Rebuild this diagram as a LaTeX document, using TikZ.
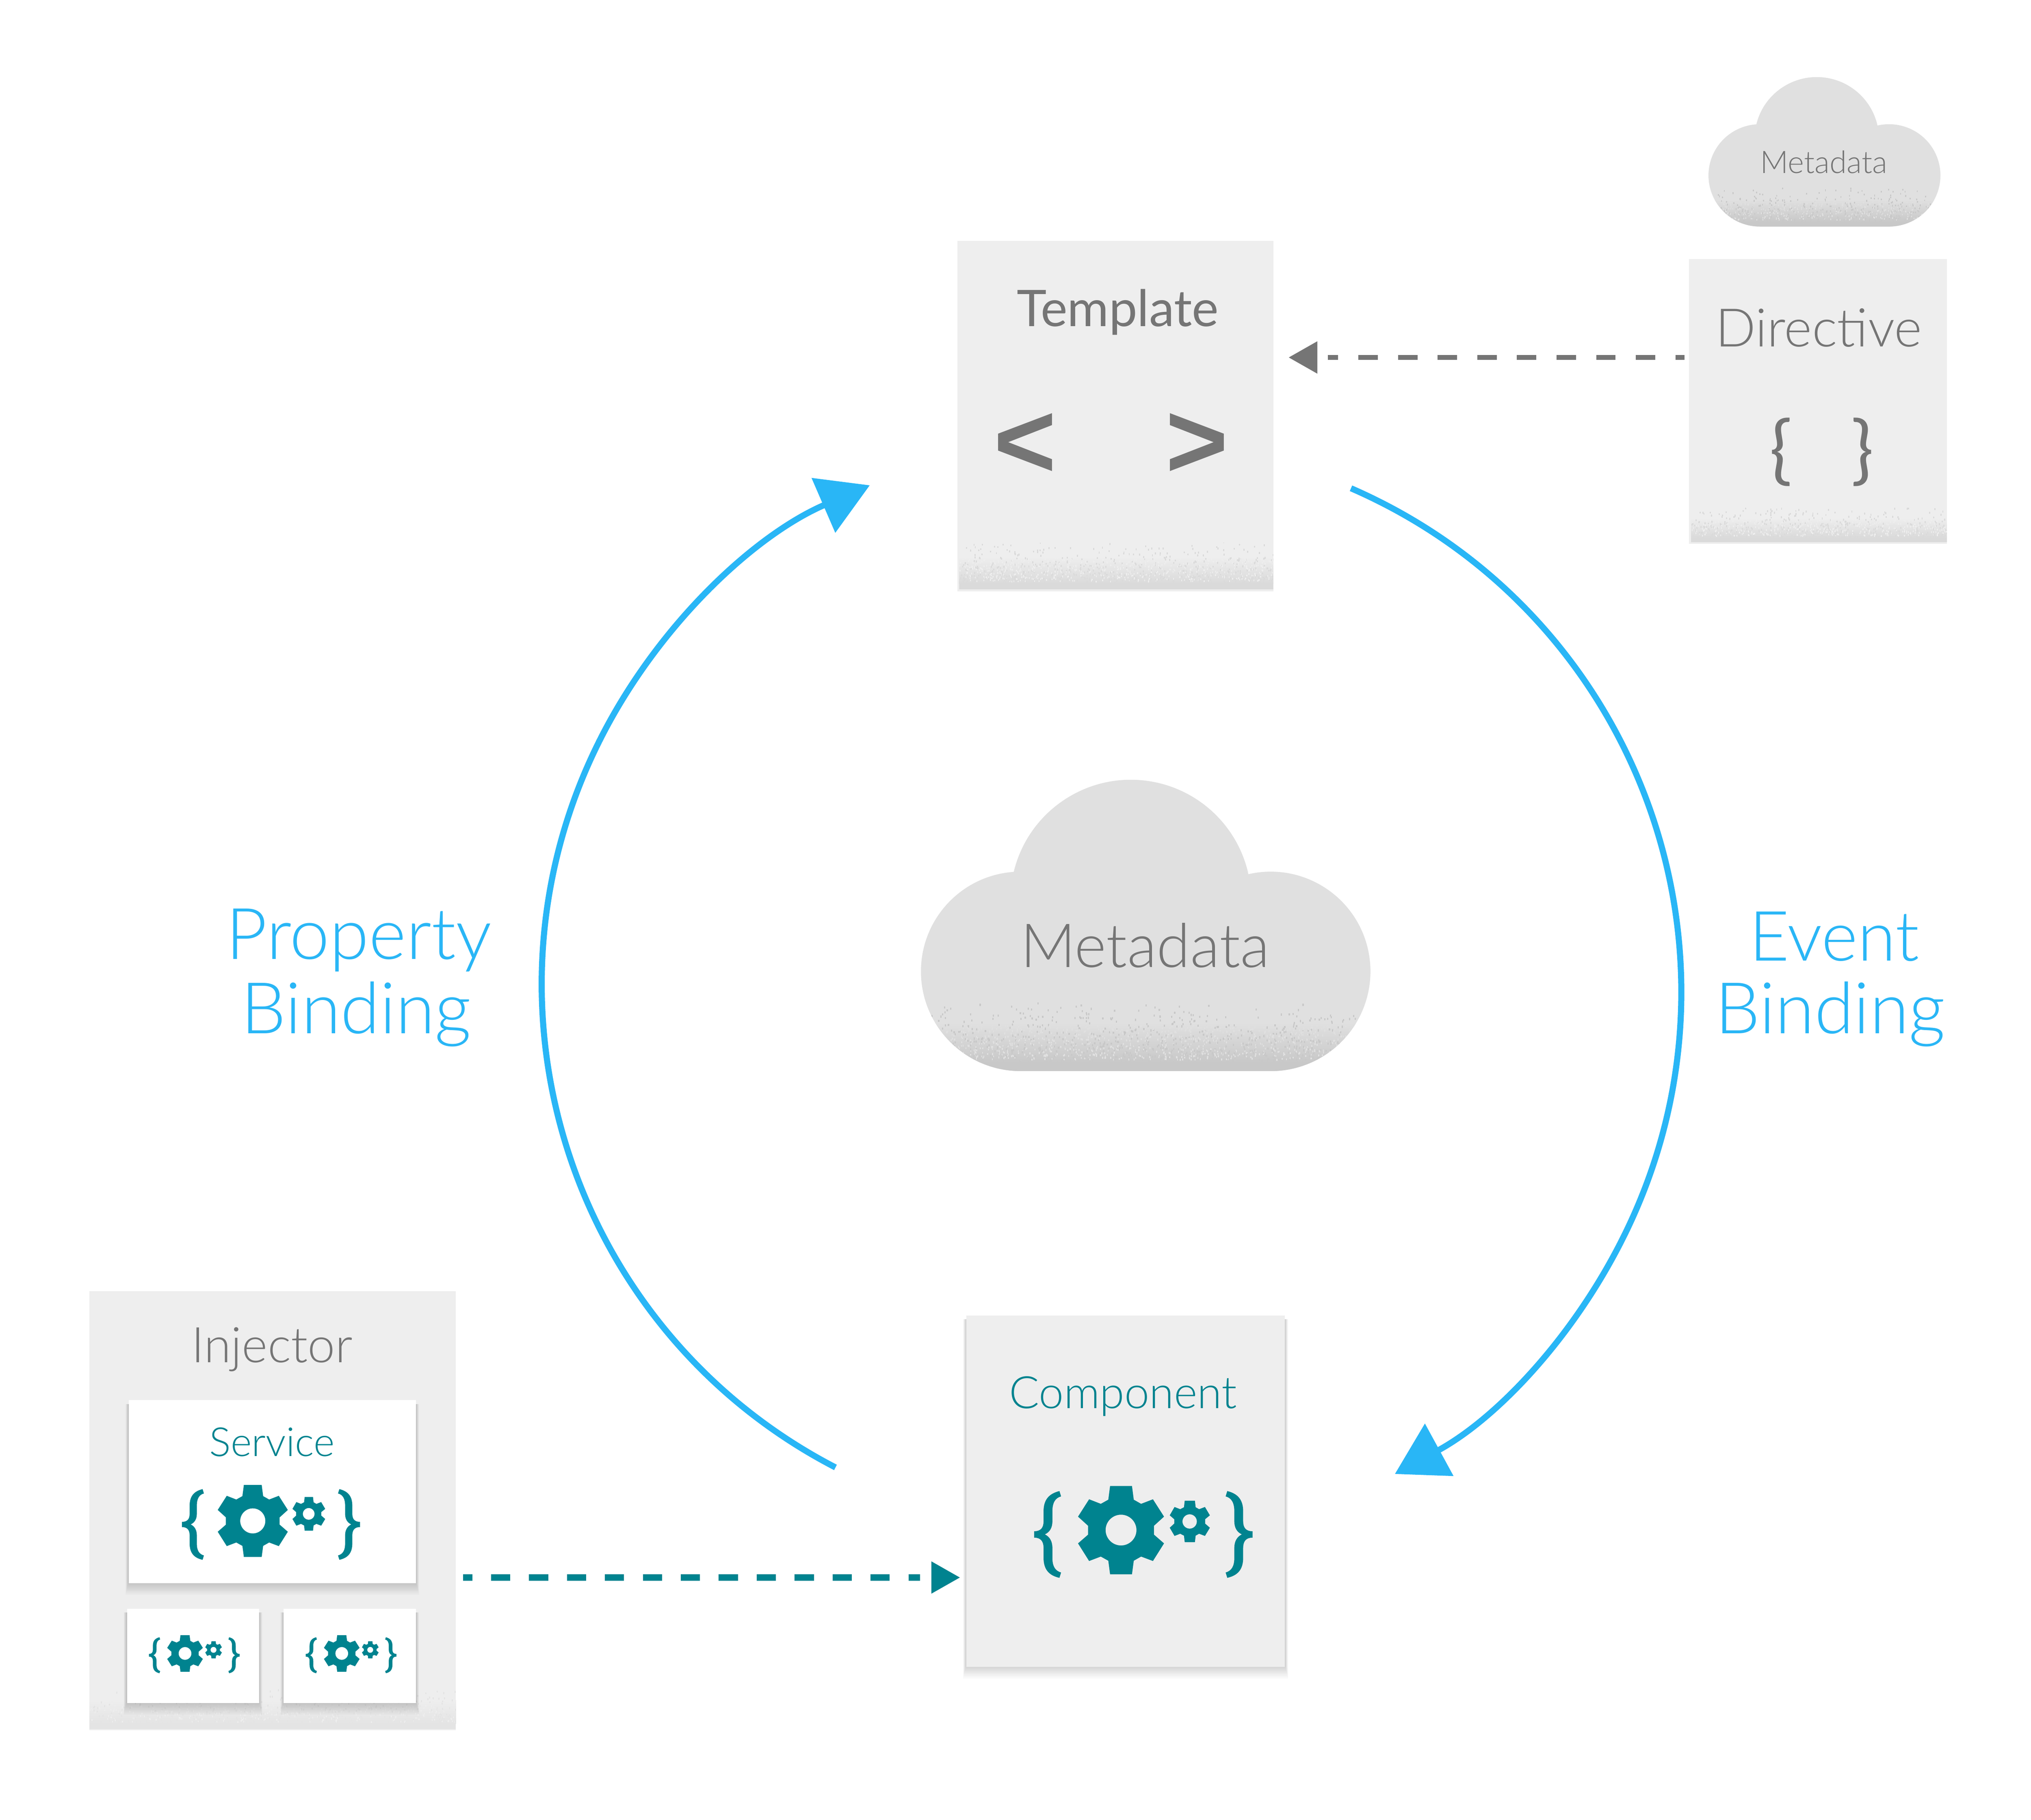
\documentclass[tikz,border=0pt]{standalone}
\usepackage{fontspec}
\setmainfont{Lato Light}
\newfontfamily\medfont{Lato}
\newfontfamily\symfont{Liberation Sans}
\usetikzlibrary{arrows.meta}
\definecolor{boxgrey}{HTML}{EEEEEE}
\definecolor{cloudgrey}{HTML}{E0E0E0}
\definecolor{clouddark}{HTML}{C8C8C8}
\definecolor{grainbox}{HTML}{DADADA}
\definecolor{graininj}{HTML}{E4E4E4}
\definecolor{inktext}{HTML}{757575}
\definecolor{tealc}{HTML}{00838F}
\definecolor{bluec}{HTML}{29B6F6}
\tikzset{
  x=1pt,y=1pt,
  panel/.style={fill=boxgrey,draw=none,inner sep=0pt,outer sep=0pt},
  card/.style={fill=white,draw=none,inner sep=0pt,outer sep=0pt},
  label/.style={inner sep=0pt,outer sep=0pt,anchor=center,text=inktext},
  teallabel/.style={label,text=tealc},
  bluelabel/.style={label,text=bluec,font=\fontsize{55}{55}\selectfont},
  bigarc/.style={draw=bluec,line width=4.7pt,-{Triangle[length=39pt,width=45pt]}},
  greydash/.style={draw=inktext,line width=3.8pt,dash pattern=on 15pt off 15.6pt,dash phase=8pt},
  tealdash/.style={draw=tealc,line width=5.2pt,dash pattern=on 14.8pt off 14.5pt,dash phase=7.8pt},
}
% x0,x1,ytop,ybot (y negative), dark colour, base colour, specks, speck size
\newcommand\grainband[8]{%
  \shade[top color=#6,bottom color=#5] (#1,{#3+(#4-#3)*0.3}) rectangle (#2,{#4+(#3-#4)*0.12});
  \fill[#5] (#1,{#4+(#3-#4)*0.12}) rectangle (#2,#4);
  \foreach \gi in {1,...,#7}{%
    \pgfmathsetmacro\gx{#1+rnd*(#2-#1)}%
    \pgfmathsetmacro\gt{pow(rnd,0.55)}%
    \pgfmathsetmacro\gy{#3+(#4-#3)*\gt}%
    \fill[#5] (\gx,\gy) rectangle ++(#8,{1.6*#8});
    \pgfmathsetmacro\gx{#1+rnd*(#2-#1)}%
    \pgfmathsetmacro\gy{#3+(#4-#3)*(0.35+0.5*rnd)}%
    \fill[#6] (\gx,\gy) rectangle ++({0.8*#8},{1.4*#8});
  }%
}
\newcommand\softshadow[4]{%
  \foreach \sk in {0,...,11}{%
    \fill[black,opacity=0.016] ({#1-2.5+\sk*0.2},{#4-9+\sk*0.9}) rectangle ({#3+2.5-\sk*0.2},{#2-3});
  }%
}
\newcommand\cloudshape{%
  (788,-827) arc[start angle=270,end angle=94,radius=77]
  arc[start angle=166.4,end angle=13.6,radius=93]
  -- (963.7,-675) arc[start angle=103,end angle=-90,radius=77] -- cycle}
\newcommand\bracepath{%
  \fill[tealc] (224,144) .. controls (150,165) and (118,215) .. (118,300) -- (118,375)
   .. controls (118,425) and (100,452) .. (55,452) -- (55,501)
   .. controls (100,501) and (118,530) .. (118,580) -- (118,655)
   .. controls (118,740) and (150,790) .. (224,809) -- (235,768)
   .. controls (195,755) and (177,720) .. (177,655) -- (177,580)
   .. controls (177,530) and (160,495) .. (127,476)
   .. controls (160,458) and (177,425) .. (177,375) -- (177,300)
   .. controls (177,235) and (195,197) .. (235,185) -- cycle;}
% centre x, centre y, scale
\newcommand\gearicon[3]{%
  \begin{scope}[shift={(#1,#2)},scale=#3,xscale=0.11569,yscale=-0.10077,shift={(-784,-476)}]
    \bracepath
    \begin{scope}[shift={(1568,0)},xscale=-1]\bracepath\end{scope}
    \fill[tealc,even odd rule,line join=round]
      (562,105)--(708,105)--(720,210)--(769,242)--(848,207)--(922,340)--(855,410)--(855,478)--(922,545)--(848,680)--(769,646)--(720,678)--(708,782)--(562,782)--(550,678)--(500,646)--(422,680)--(348,545)--(415,478)--(415,410)--(348,340)--(422,207)--(500,242)--(550,210)--cycle
      (635,443) ellipse [x radius=103,y radius=118];
    \fill[tealc,even odd rule]
      (1060,218)--(1128,218)--(1133,268)--(1156,283)--(1195,266)--(1228,330)--(1196,360)--(1196,393)--(1228,425)--(1195,488)--(1156,471)--(1133,486)--(1128,535)--(1060,535)--(1055,486)--(1030,471)--(992,488)--(960,425)--(990,393)--(990,360)--(960,330)--(992,266)--(1030,283)--(1055,268)--cycle
      (1093,377) ellipse [x radius=48,y radius=55];
  \end{scope}}
\begin{document}
\begin{tikzpicture}
\useasboundingbox (0,0) rectangle (1568,-1405);
\pgfmathsetseed{4242}
\fill[white] (0,0) rectangle (1568,-1405);

% Template
\node[panel,minimum width=244pt,minimum height=270.5pt] (template) at (861,-321.25) {};
\begin{scope}
  \clip (740.5,-419) rectangle (983,-455);
  \grainband{740.5}{983}{-419}{-455}{grainbox}{boxgrey}{650}{0.9}
\end{scope}
\node[label,font=\medfont\fontsize{39}{39}\selectfont] (templatetitle) at (863,-241) {Template};
\node[label,font=\symfont\bfseries\fontsize{83}{83}\selectfont] (ltglyph) at (791.5,-344) {<};
\node[label,font=\symfont\bfseries\fontsize{83}{83}\selectfont] (gtglyph) at (924,-344) {>};

% Directive
\node[panel,minimum width=199pt,minimum height=220pt] (directive) at (1403.5,-310) {};
\begin{scope}
  \clip (1305.5,-392) rectangle (1503,-418.5);
  \grainband{1305.5}{1503}{-392}{-418.5}{grainbox}{boxgrey}{420}{0.9}
\end{scope}
\node[label,font=\fontsize{41}{41}\selectfont] (directivetitle) at (1404,-253) {Directive};
\node[label,font=\medfont\fontsize{58}{58}\selectfont] (lbrace) at (1375,-349) {\{};
\node[label,font=\medfont\fontsize{58}{58}\selectfont] (rbrace) at (1438,-349) {\}};

% small cloud
\begin{scope}[shift={(1319-711*0.516,-60+603*0.513)},xscale=0.516,yscale=0.513]
  \fill[cloudgrey] \cloudshape;
  \clip \cloudshape;
  \grainband{711}{1058}{-770}{-827}{clouddark}{cloudgrey}{420}{1.6}
\end{scope}
\node[label,font=\fontsize{24}{24}\selectfont] (smallmeta) at (1408,-125) {Metadata};

% big cloud
\fill[cloudgrey] \cloudshape;
\begin{scope}
  \clip \cloudshape;
  \grainband{711}{1058}{-774}{-827}{clouddark}{cloudgrey}{1000}{1.0}
\end{scope}
\node[label,font=\fontsize{47}{47}\selectfont] (bigmeta) at (884,-730) {Metadata};

% Injector
\node[panel,minimum width=283pt,minimum height=339pt] (injector) at (210.5,-1166.5) {};
\begin{scope}
  \clip (69,-1303) rectangle (352,-1335);
  \grainband{69}{352}{-1303}{-1335}{graininj}{boxgrey}{400}{0.9}
\end{scope}
\node[label,font=\fontsize{38}{38}\selectfont] (injectortitle) at (210,-1042) {Injector};
\softshadow{99.4}{-1081}{321}{-1222.5}
\node[card,minimum width=221.6pt,minimum height=141.5pt] (service) at (210.2,-1151.75) {};
\node[teallabel,font=\fontsize{31}{31}\selectfont] (servicetitle) at (210,-1113.5) {Service};
\gearicon{209.2}{-1177}{0.815}
\softshadow{98}{-1242}{200}{-1315}
\node[card,minimum width=102pt,minimum height=73pt] (smalla) at (149,-1278.5) {};
\gearicon{150}{-1278}{0.415}
\softshadow{219}{-1242}{321}{-1315}
\node[card,minimum width=102pt,minimum height=73pt] (smallb) at (270,-1278.5) {};
\gearicon{271}{-1278}{0.415}

% Component
\softshadow{746}{-1015.6}{992}{-1287}
\node[panel,minimum width=246pt,minimum height=271.4pt] (component) at (869,-1151.3) {};
\node[teallabel,font=\fontsize{34.5}{34.5}\selectfont] (componenttitle) at (867,-1078) {Component};
\gearicon{882.7}{-1184.7}{1}

% connectors
\coordinate (evstart) at (1043,-377);
\coordinate (evend) at (1075,-1137);
\coordinate (pbstart) at (645,-1133);
\coordinate (dirout) at (1300.5,-276);
\coordinate (tplgap) at (1025,-276);
\coordinate (tplin) at (995,-276);
\coordinate (injout) at (357.6,-1218);
\coordinate (compgap) at (710.4,-1218);
\coordinate (compin) at (741,-1218);
\draw[bigarc] (evstart) arc[start angle=66.5,end angle=-61.4,radius=424];
\draw[bigarc] (pbstart) arc[start angle=242.6,end angle=113.4,radius=420];
\draw[greydash] (dirout) -- (tplgap);
\fill[inktext] (tplin) -- ++(22,12.5) -- ++(0,-25) -- cycle;
\draw[tealdash] (injout) -- (compgap);
\fill[tealc] (compin) -- ++(-22,12.5) -- ++(0,-25) -- cycle;

% binding labels
\node[bluelabel] (prop) at (277,-726) {Property};
\node[bluelabel] (propb) at (275,-783) {Binding};
\node[bluelabel,font=\fontsize{53.5}{53.5}\selectfont] (ev) at (1416,-723) {Event};
\node[bluelabel] (evb) at (1413,-783) {Binding};
\end{tikzpicture}
\end{document}
